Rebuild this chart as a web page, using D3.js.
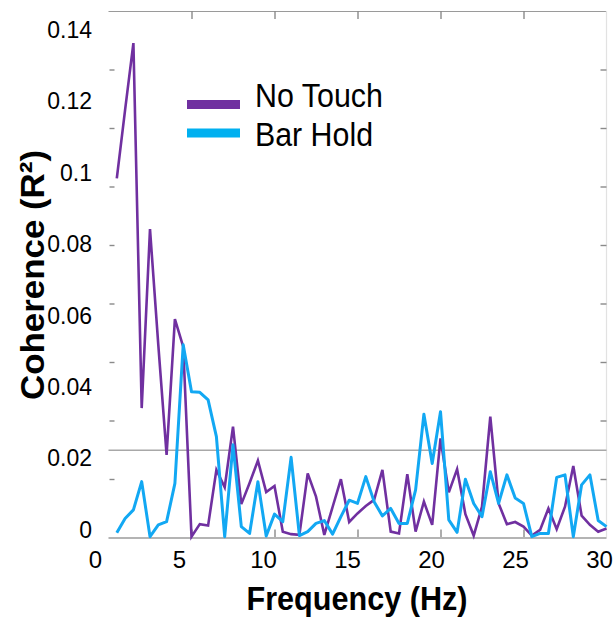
<!DOCTYPE html>
<html><head><meta charset="utf-8">
<script src="https://cdn.jsdelivr.net/npm/d3@7"></script>
<style>
body{margin:0;background:#fff}
text{font-family:"Liberation Sans",Arial,Helvetica,sans-serif}
</style>
</head><body><svg id="c" width="615" height="617"></svg>
<script>
const freqs = [0.5,1,1.5,2,2.5,3,3.5,4,4.5,5,5.5,6,6.5,7,7.5,8,8.5,9,9.5,10,
  10.5,11,11.5,12,12.5,13,13.5,14,14.5,15,15.5,16,16.5,17,17.5,18,18.5,19,19.5,20,
  20.5,21,21.5,22,22.5,23,23.5,24,24.5,25,25.5,26,26.5,27,27.5,28,28.5,29,29.5,30];
const noTouch = [0.1004,0.1196,0.1383,0.0361,0.0862,0.0538,0.0230,0.0610,0.0533,0.0001,
  0.0036,0.0032,0.0188,0.0139,0.0309,0.0092,0.0151,0.0214,0.0126,0.0143,
  0.0015,0.0008,0.0006,0.0178,0.0113,0.0006,0.0084,0.0162,0.0042,0.0066,
  0.0087,0.0104,0.0188,0.0015,0.0010,0.0176,0.0015,0.0099,0.0034,0.0276,
  0.0125,0.0190,0.0064,0.0004,0.0085,0.0337,0.0094,0.0036,0.0042,0.0029,
  0.0004,0.0020,0.0080,0.0022,0.0085,0.0199,0.0060,0.0034,0.0015,0.0024];
const barHold = [0.0012,0.0052,0.0076,0.0155,0.0001,0.0034,0.0043,0.0150,0.0538,0.0407,
  0.0405,0.0384,0.0281,0.0001,0.0258,0.0029,0.0010,0.0155,0.0003,0.0064,
  0.0043,0.0223,0.0004,0.0015,0.0038,0.0046,0.0008,0.0057,0.0103,0.0094,
  0.0169,0.0099,0.0059,0.0080,0.0038,0.0038,0.0132,0.0344,0.0206,0.0351,
  0.0048,0.0013,0.0162,0.0094,0.0057,0.0183,0.0094,0.0174,0.0109,0.0094,
  0.0001,0.0010,0.0010,0.0167,0.0174,0.0001,0.0146,0.0174,0.0046,0.0029];
const threshold = 0.0243;
const seriesNames = ["No Touch","Bar Hold"];
const seriesColors = ["#7030a0","#12a8f3"];
const xTickValues = [0,5,10,15,20,25,30];
const yTickValues = [0,0.02,0.04,0.06,0.08,0.1,0.12,0.14];
const xTitle = "Frequency (Hz)";
const yTitle = "Coherence (R\u00B2)";

const svg = d3.select("#c");
svg.append("rect").attr("width",615).attr("height",617).attr("fill","#fff");

const L = 108.5, R = 606.5, T = 11, B = 537.5;
const x = d3.scaleLinear([0,30],[L,R]);
const y = d3.scaleLinear([0,0.14],[537,37]);
const xLab = d3.scaleLinear([0,30],[95,599]);
const yFrame = d3.scaleLinear([0,9],[B,T]);

// frame lines
svg.append("line").attr("x1",L).attr("x2",R).attr("y1",T+0.5).attr("y2",T+0.5)
  .attr("stroke","#9a9a9a").attr("stroke-width",1.2);
svg.append("line").attr("x1",R).attr("x2",R).attr("y1",T).attr("y2",B)
  .attr("stroke","#e2e2e2").attr("stroke-width",1.2);

function styleTicks(g){
  g.select(".domain").remove();
  g.selectAll(".tick line").attr("stroke","#8a8a8a").attr("stroke-width",1.4);
  g.selectAll(".tick text").remove();
}
svg.append("g").attr("transform",`translate(0,${T})`)
  .call(d3.axisTop(x).tickValues([5,10,15,20,25]).tickSize(-8)).call(styleTicks);
svg.append("g").attr("transform",`translate(0,${B})`)
  .call(d3.axisBottom(x).tickValues([5,10,15,20,25]).tickSize(-8)).call(styleTicks);
svg.append("g").attr("transform",`translate(${L+1},0)`)
  .call(d3.axisLeft(yFrame).tickValues([1,2,3,4,5,6,7,8]).tickSize(-5)).call(styleTicks);
svg.append("g").attr("transform",`translate(${R},0)`)
  .call(d3.axisRight(yFrame).tickValues([1,2,3,4,5,6,7,8]).tickSize(-6)).call(styleTicks);

// threshold line
svg.append("line").attr("x1",L).attr("x2",R)
  .attr("y1",y(threshold)).attr("y2",y(threshold))
  .attr("stroke","#a8a8a8").attr("stroke-width",1.6);

// baseline
svg.append("line").attr("x1",L).attr("x2",R).attr("y1",B+0.5).attr("y2",B+0.5)
  .attr("stroke","#b4b4b4").attr("stroke-width",2);

// tick labels
const gx = svg.append("g").attr("transform","translate(0,551)")
  .call(d3.axisBottom(xLab).tickValues(xTickValues).tickSize(0).tickPadding(0).tickFormat(d3.format("d")));
gx.select(".domain").remove();
gx.selectAll("text").attr("font-size",24).attr("fill","#000")
  .style("font-family",'"Liberation Sans",Arial,sans-serif');

const gy = svg.append("g").attr("transform","translate(92,-7)")
  .call(d3.axisLeft(y).tickValues(yTickValues).tickSize(0).tickPadding(0).tickFormat(d3.format("~g")));
gy.select(".domain").remove();
gy.selectAll("text").attr("font-size",23).attr("fill","#000")
  .style("font-family",'"Liberation Sans",Arial,sans-serif');

// series lines
const line = d3.line().x((d,i)=>x(freqs[i])).y(d=>y(d));
svg.append("path").datum(noTouch).attr("d",line).attr("fill","none")
  .attr("stroke",seriesColors[0]).attr("stroke-width",2.6).attr("stroke-linejoin","miter");
svg.append("path").datum(barHold).attr("d",line).attr("fill","none")
  .attr("stroke",seriesColors[1]).attr("stroke-width",3).attr("stroke-linejoin","round");

// legend
const legY = [104.5, 133];
const legBase = [107, 146];
const legLen = [128, 118];
seriesNames.forEach((n,i)=>{
  svg.append("rect").attr("x",187).attr("y",legY[i]-4.5).attr("width",53).attr("height",9)
    .attr("fill", i===0 ? "#7030a0" : "#00b0f0");
  svg.append("text").attr("x",255).attr("y",legBase[i]).attr("font-size",33)
    .attr("textLength",legLen[i]).attr("lengthAdjust","spacingAndGlyphs")
    .attr("fill","#000").text(n);
});

// axis titles
svg.append("text").attr("x",357).attr("y",610).attr("text-anchor","middle")
  .attr("font-size",34).attr("font-weight","bold")
  .attr("textLength",221).attr("lengthAdjust","spacingAndGlyphs").text(xTitle);
svg.append("text").attr("transform","translate(44,275) rotate(-90)")
  .attr("text-anchor","middle").attr("font-size",34).attr("font-weight","bold")
  .attr("textLength",250).attr("lengthAdjust","spacingAndGlyphs").text(yTitle);
</script>
</body></html>
